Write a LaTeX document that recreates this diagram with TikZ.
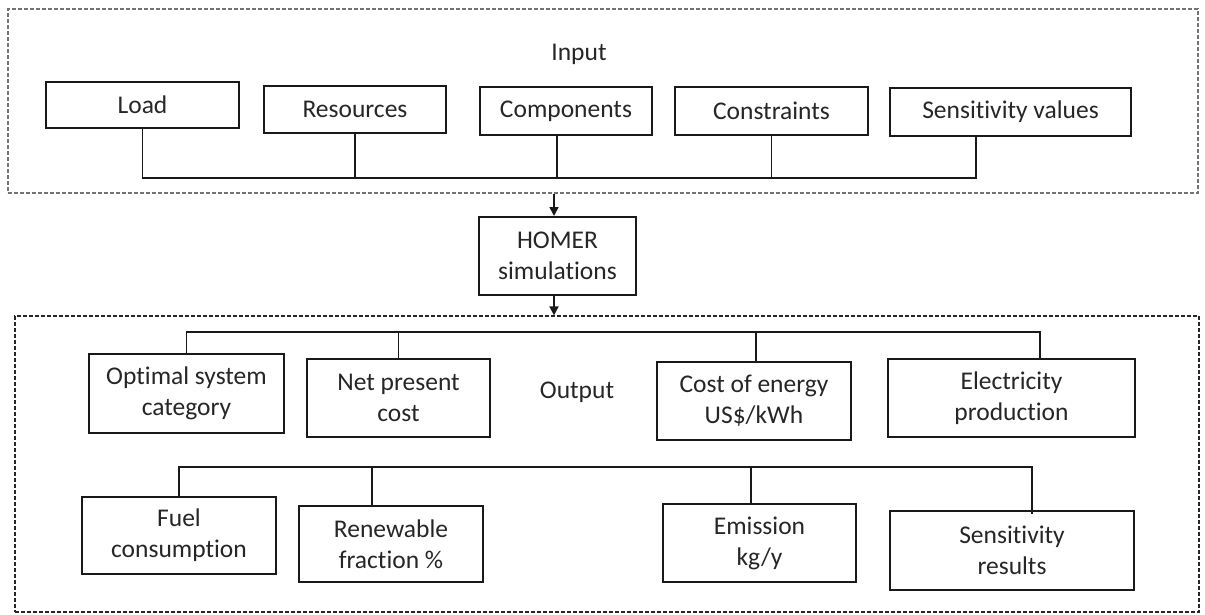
\documentclass[tikz,border=0pt]{standalone}
\usepackage{fontspec}
\setmainfont[Ligatures=NoCommon]{Carlito}
\usetikzlibrary{arrows.meta}
\begin{document}
\begin{tikzpicture}[x=1pt,y=-1pt,
  box/.style={draw=black!90,line width=2pt,rectangle,inner sep=0pt,align=center,
    text=black!85,font=\fontsize{25.5}{31}\selectfont},
  lbl/.style={text=black!85,font=\fontsize{25.5}{31}\selectfont,inner sep=0pt},
  frameA/.style={draw=black!55,line width=1.2pt,dash pattern=on 4pt off 2pt,inner sep=0pt},
  frameB/.style={draw=black!85,line width=1.2pt,dash pattern=on 4pt off 2pt,inner sep=0pt},
  wire/.style={draw=black!90,line width=1.6pt},
  arr/.style={draw=black!90,line width=1.6pt,-{Triangle[length=9pt,width=9pt]}}]
\useasboundingbox (0,0) rectangle (1205,614);
% frames
\node[frameA,minimum width=1190pt,minimum height=184pt] (inbox) at (603,101) {};
\node[frameB,minimum width=1184pt,minimum height=296pt] (outbox) at (607,464) {};
\node[lbl] (inlbl) at (579,54) {Input};
\node[lbl] (outlbl) at (577,392) {Output};
% input boxes
\node[box,minimum width=193pt,minimum height=46pt] (load) at (142.5,105) {Load};
\node[box,minimum width=182pt,minimum height=47pt] (res) at (355,109.5) {Resources};
\node[box,minimum width=172pt,minimum height=48pt] (comp) at (566,111) {Components};
\node[box,minimum width=193pt,minimum height=48pt] (cons) at (771.5,111) {Constraints};
\node[box,minimum width=241pt,minimum height=48pt] (sens) at (1010.5,112) {Sensitivity values};
\coordinate (busA) at (144,178);
\draw[wire] (load.south) -- (load.south |- busA) -- ([xshift=-34.5pt]sens.south |- busA) -- ([xshift=-34.5pt]sens.south);
\draw[wire] (res.south) -- (res.south |- busA);
\draw[wire] ([xshift=-9pt]comp.south) -- ([xshift=-9pt]comp.south |- busA);
\draw[wire] (cons.south) -- (cons.south |- busA);
% HOMER
\node[box,minimum width=157pt,minimum height=78pt] (homer) at (557.5,256) {HOMER\\simulations};
\draw[arr] ([xshift=-3.5pt]homer.north |- inbox.south) -- ([xshift=-3.5pt]homer.north);
\draw[arr] ([xshift=-3.5pt]homer.south) -- ([xshift=-3.5pt]homer.south |- outbox.north);
% output row 1
\node[box,minimum width=195pt,minimum height=79pt] (opt) at (186.5,393.5) {Optimal system\\category};
\node[box,minimum width=183pt,minimum height=78pt] (npc) at (398.5,398) {Net present\\cost};
\node[box,minimum width=194pt,minimum height=78pt] (coe) at (754,401) {Cost of energy\\US\$/kWh};
\node[box,minimum width=247pt,minimum height=78pt] (elec) at (1011.5,398) {Electricity\\production};
\coordinate (busB) at (186,332);
\draw[wire] (opt.north) -- (opt.north |- busB) -- ([xshift=28.5pt]elec.north |- busB) -- ([xshift=28.5pt]elec.north);
\draw[wire] (npc.north) -- (npc.north |- busB);
\draw[wire] ([xshift=2pt]coe.north) -- ([xshift=2pt]coe.north |- busB);
% output row 2
\node[box,minimum width=194pt,minimum height=77pt] (fuel) at (179,535.5) {Fuel\\consumption};
\node[box,minimum width=184pt,minimum height=76pt] (ren) at (391,544) {Renewable\\fraction \%};
\node[box,minimum width=193pt,minimum height=78pt] (emi) at (759.5,543) {Emission\\kg/y};
\node[box,minimum width=244pt,minimum height=79pt] (sres) at (1012,550.5) {Sensitivity\\results};
\coordinate (busC) at (178,467);
\draw[wire] (fuel.north) -- (fuel.north |- busC) -- ([xshift=20pt]sres.north |- busC) -- ([xshift=20pt,yshift=-4pt]sres.north);
\draw[wire] ([xshift=-19pt]ren.north) -- ([xshift=-19pt]ren.north |- busC);
\draw[wire] ([xshift=-8.5pt]emi.north) -- ([xshift=-8.5pt]emi.north |- busC);
\end{tikzpicture}
\end{document}
